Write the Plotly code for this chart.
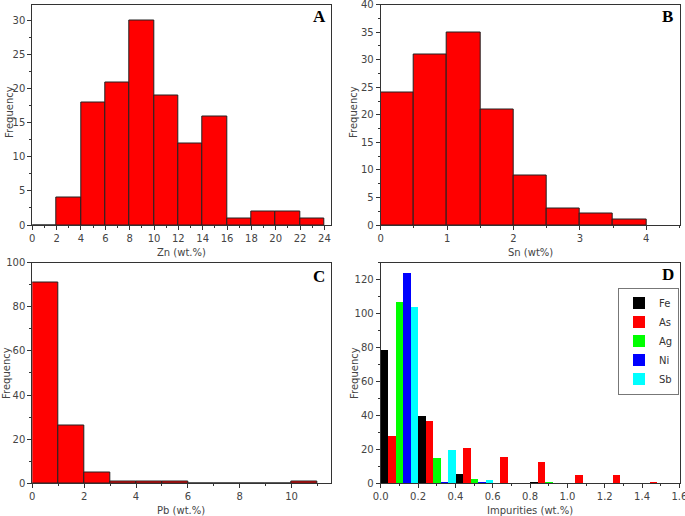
import plotly.graph_objects as go

# ---- data ----
zn_bins = [0, 2, 4, 6, 8, 10, 12, 14, 16, 18, 20, 22]
zn_counts = [0, 4, 18, 21, 30, 19, 12, 16, 1, 2, 2, 1]

sn_bins = [0, 0.5, 1.0, 1.5, 2.0, 2.5, 3.0, 3.5]
sn_counts = [24, 31, 35, 21, 9, 3, 2, 1]

pb_bins = [0, 1, 2, 3, 4, 5, 6, 7, 8, 9, 10]
pb_counts = [91, 26, 5, 1, 1, 1, 0, 0, 0, 0, 1]

imp_bins = [0.0, 0.2, 0.4, 0.6, 0.8, 1.0, 1.2, 1.4]
imp_names = ["Fe", "As", "Ag", "Ni", "Sb"]
fe_counts = [79, 40, 6, 0, 1, 0, 0, 0]
as_counts = [28, 37, 21, 16, 13, 5, 5, 1]
ag_counts = [107, 15, 3, 0, 1, 0, 0, 0]
ni_counts = [124, 1, 1, 0, 0, 0, 0, 0]
sb_counts = [104, 20, 2, 0, 0, 0, 0, 0]
imp_counts = [fe_counts, as_counts, ag_counts, ni_counts, sb_counts]
imp_colors = ["#000000", "#ff0000", "#00ff00", "#0000ff", "#00ffff"]

W, H = 685, 516
FONT = "DejaVu Sans"
AX = "#333333"

fig = go.Figure()

def hist(bins, counts, width, xa, ya):
    fig.add_trace(go.Bar(
        x=bins, y=counts, width=width, offset=0,
        marker=dict(color="#ff0000", line=dict(color="#222222", width=1)),
        xaxis=xa, yaxis=ya, showlegend=False))

hist(zn_bins, zn_counts, 2, "x", "y")
hist(sn_bins, sn_counts, 0.5, "x2", "y2")
hist(pb_bins, pb_counts, 1, "x3", "y3")

bw = 0.04
for i, (name, cnts, col) in enumerate(zip(imp_names, imp_counts, imp_colors)):
    fig.add_trace(go.Bar(
        x=imp_bins, y=cnts, width=bw, offset=i * bw, name=name,
        marker=dict(color=col, line=dict(width=0)),
        xaxis="x4", yaxis="y4", showlegend=True))

def px(v):
    return v / W

def py(v):
    return 1 - v / H

dom_x_left = [px(32.3), px(330.5)]
dom_x_right = [px(380.7), px(679.5)]
dom_y_top = [py(225), py(4.5)]
dom_y_bot = [py(483.3), py(262.5)]

def axis(domain, anchor, rng, dtick, mdtick):
    return dict(domain=domain, anchor=anchor, range=rng, dtick=dtick, tick0=0,
                automargin=False, ticklabeloverflow="allow",
                showline=True, linecolor=AX, linewidth=1, mirror=True,
                ticks="outside", ticklen=4, tickcolor=AX, tickwidth=1,
                minor=dict(ticks="outside", ticklen=2, dtick=mdtick, tick0=0, tickcolor=AX),
                showgrid=False, zeroline=False,
                tickfont=dict(family=FONT, size=10, color="#444444"))

fig.update_layout(
    width=W, height=H,
    margin=dict(l=0, r=0, t=0, b=0, autoexpand=False),
    paper_bgcolor="white", plot_bgcolor="white",
    barmode="overlay", bargap=0,
    xaxis=axis(dom_x_left, "y", [0, 24.5], 2, 1),
    yaxis=axis(dom_y_top, "x", [0, 32.4], 5, 2.5),
    xaxis2=axis(dom_x_right, "y2", [0, 4.5], 1, 0.5),
    yaxis2=axis(dom_y_top, "x2", [0, 40.02], 5, 2.5),
    xaxis3=axis(dom_x_left, "y3", [0, 11.5], 2, 1),
    yaxis3=axis(dom_y_bot, "x3", [0, 100.05], 20, 10),
    xaxis4=axis(dom_x_right, "y4", [0, 1.6005], 0.2, 0.1),
    yaxis4=axis(dom_y_bot, "x4", [0, 130], 20, 10),
    legend=dict(x=px(618), y=py(287.5), xanchor="left", yanchor="top",
                bordercolor="#777777", borderwidth=1, bgcolor="white",
                font=dict(family=FONT, size=10, color="#333333"),
                tracegroupgap=0, itemwidth=30),
    showlegend=True,
)
fig.update_layout(xaxis4=dict(tickformat=".1f"))

ann = []
def text(x, y, s, size=10, angle=0, family=FONT, bold=False, color="#444444"):
    ann.append(dict(x=px(x), y=py(y), xref="paper", yref="paper", text=("<b>%s</b>" % s) if bold else s,
                    showarrow=False, textangle=angle, xanchor="center", yanchor="middle",
                    font=dict(family=family, size=size, color=color)))

# axis titles
text(181, 252.5, "Zn (wt.%)")
text(530, 252.5, "Sn (wt%)")
text(181, 510, "Pb (wt.%)")
text(530, 510, "Impurities (wt.%)")
text(10, 112, "Frequency", angle=-90)
text(354, 112, "Frequency", angle=-90)
text(6, 373, "Frequency", angle=-90)
text(354, 373, "Frequency", angle=-90)
# panel letters
SERIF = "Liberation Serif"
text(319, 16, "A", size=17, family=SERIF, bold=True, color="black")
text(667, 16, "B", size=17, family=SERIF, bold=True, color="black")
text(319, 276, "C", size=17, family=SERIF, bold=True, color="black")
text(668, 274, "D", size=17, family=SERIF, bold=True, color="black")
fig.update_layout(annotations=ann)

fig.write_html("out.html", config={"displayModeBar": False},
               post_script="document.body.style.margin='0';")
